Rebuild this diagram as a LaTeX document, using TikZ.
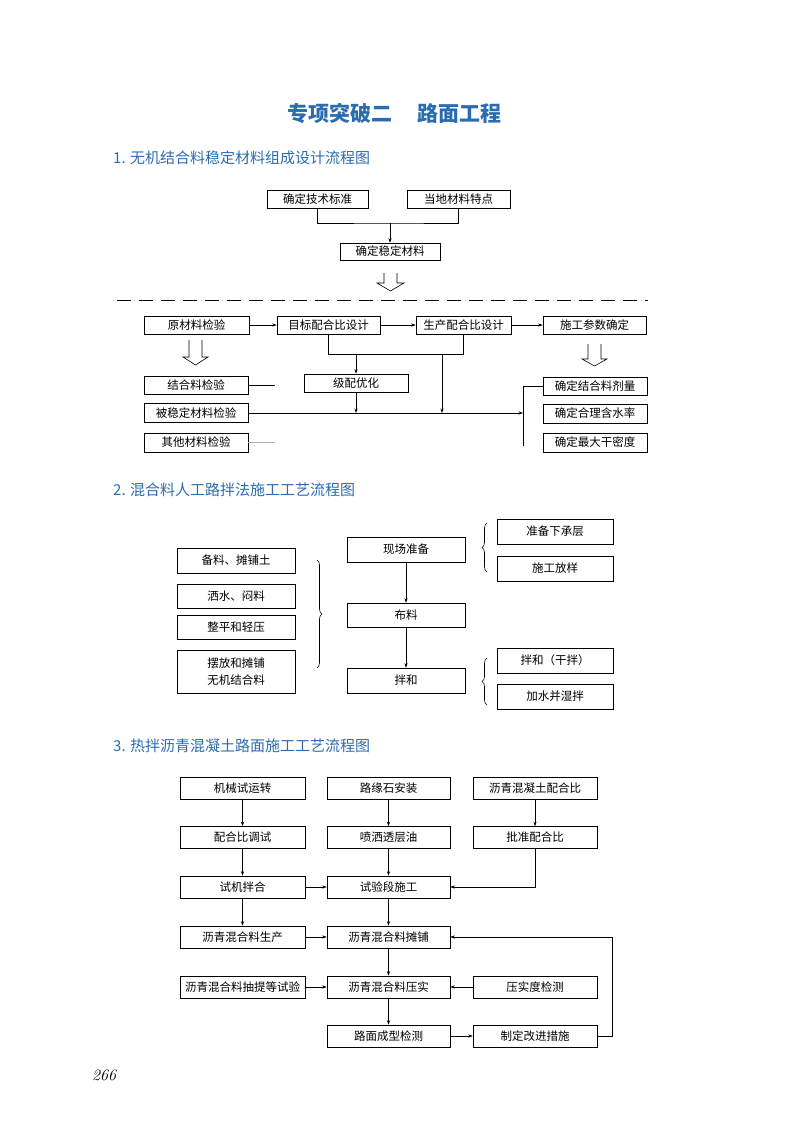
\documentclass[tikz,border=0pt]{standalone}
\usepackage{fontspec}
\newfontfamily\cjk{Noto Sans CJK SC}
\usetikzlibrary{arrows.meta,decorations.pathreplacing}
\definecolor{ttlblue}{HTML}{2B6CB0}
\tikzset{
  box/.style={draw, line width=0.6pt, inner sep=0pt, align=center, font=\cjk\fontsize{11.5}{14}\selectfont},
  conn/.style={line width=0.6pt},
  arr/.style={line width=0.6pt, -{Stealth[length=4.5pt,width=3.2pt]}},
  hollow/.style={line width=0.6pt},
  faint/.style={line width=0.6pt, draw=gray!60},
  brc/.style={line width=0.6pt, decorate, decoration={brace, amplitude=5pt}},
  heading/.style={anchor=west, text=ttlblue, inner sep=0pt, font=\cjk\fontsize{15}{18}\selectfont},
  titletext/.style={anchor=west, text=ttlblue, inner sep=0pt, font=\cjk\bfseries\fontsize{21}{24}\selectfont}
}
\begin{document}
\begin{tikzpicture}[x=1pt,y=-1pt]
\useasboundingbox (0,0) rectangle (800,1132);

% ---------- title ----------
\node[titletext] (t1) at (287,114) {专项突破二};
\node[titletext] (t2) at (417,114) {路面工程};

% ---------- section 1 ----------
\node[heading] (h1) at (113,158) {1. 无机结合料稳定材料组成设计流程图};

\node[box, minimum width=101, minimum height=18] (jsbz) at (317.5,199) {确定技术标准};
\node[box, minimum width=103, minimum height=18] (ddcl) at (458.5,199) {当地材料特点};
\node[box, minimum width=100, minimum height=17] (wdcl) at (390,251.5) {确定稳定材料};
\coordinate (m1) at (390,223);
\draw[conn] (jsbz.south) |- (m1) -| (ddcl.south);
\draw[arr] (m1) -- (wdcl.north);
% hollow arrow
\draw[hollow] (384,273) -- (384,283) -- (377,283) -- (390.5,291) -- (404,283) -- (397,283) -- (397,273);

% dashed separator
\draw[line width=1pt, dash pattern=on 14pt off 8pt] (117,300) -- (648,300);

\node[box, minimum width=105, minimum height=18] (ycl) at (196.5,325) {原材料检验};
\node[box, minimum width=103, minimum height=18] (mb) at (328.5,325) {目标配合比设计};
\node[box, minimum width=95, minimum height=18] (sc) at (463.5,325) {生产配合比设计};
\node[box, minimum width=103, minimum height=18] (sg) at (594.5,325) {施工参数确定};
\draw[arr] (ycl.east) -- (mb.west);
\draw[arr] (mb.east) -- (sc.west);
\draw[arr] (sc.east) -- (sg.west);

\coordinate (j1) at (328.5,354);
\coordinate (j2) at (463.5,354);
\draw[conn] (mb.south) -- (j1) -- (j2) -- (sc.south);
\node[box, minimum width=104, minimum height=18] (jp) at (356,383) {级配优化};
\draw[arr] (jp.north |- j1) -- (jp.north);

% left hollow arrow
\draw[hollow] (189,340) -- (189,357) -- (183,357) -- (195.5,365) -- (208,357) -- (202,357) -- (202,340);
% right hollow arrow
\draw[hollow] (588,344) -- (588,359) -- (582,359) -- (594.5,366) -- (607,359) -- (601,359) -- (601,344);

\node[box, minimum width=104, minimum height=18] (jhl) at (196,385) {结合料检验};
\node[box, minimum width=104, minimum height=19] (bwd) at (196,413) {被稳定材料检验};
\node[box, minimum width=104, minimum height=19] (qt) at (196,442.5) {其他材料检验};
\coordinate (s1) at (275,385);
\coordinate (s2) at (275,442.5);
\draw[conn] (jhl.east) -- (s1);
\draw[faint] (qt.east) -- (s2);

\coordinate (vx) at (523,413);
\draw[arr] (bwd.east) -- (vx);
\draw[arr] (jp.south) -- (jp.south |- vx);
\draw[arr] (442,354) -- (442,413);

\node[box, minimum width=104, minimum height=18] (jd1) at (595,386) {确定结合料剂量};
\node[box, minimum width=104, minimum height=19] (jd2) at (595,413.5) {确定合理含水率};
\node[box, minimum width=104, minimum height=19] (jd3) at (595,442.5) {确定最大干密度};
\coordinate (vt) at (523,386);
\coordinate (vb) at (523,446);
\draw[conn] (jd1.west) -- (vt) -- (vb);

% ---------- section 2 ----------
\node[heading] (h2) at (113,490) {2. 混合料人工路拌法施工工艺流程图};

\node[box, minimum width=118, minimum height=25] (xc) at (406,549.5) {现场准备};
\node[box, minimum width=118, minimum height=24] (bl) at (406,615) {布料};
\node[box, minimum width=118, minimum height=25] (bh) at (406,680.5) {拌和};
\draw[arr] (xc.south) -- (bl.north);
\draw[arr] (bl.south) -- (bh.north);

\node[box, minimum width=118, minimum height=25] (p1) at (236,560.5) {备料、摊铺土};
\node[box, minimum width=118, minimum height=24] (p2) at (236,596) {洒水、闷料};
\node[box, minimum width=118, minimum height=24] (p3) at (236,627) {整平和轻压};
\node[box, minimum width=118, minimum height=43, font=\cjk\fontsize{11.5}{17}\selectfont] (p4) at (236,671.5) {摆放和摊铺\\无机结合料};
\draw[brc] (317,560) -- (317,668);

\node[box, minimum width=116, minimum height=25] (zb) at (555,531.5) {准备下承层};
\node[box, minimum width=116, minimum height=25] (fy) at (555,568.5) {施工放样};
\node[box, minimum width=116, minimum height=25] (gb) at (555,660.5) {拌和（干拌）};
\node[box, minimum width=116, minimum height=25] (sb) at (555,696.5) {加水并湿拌};
\draw[brc] (487,572) -- (487,523);
\draw[brc] (487,705) -- (487,658);

% ---------- section 3 ----------
\node[heading] (h3) at (113,746) {3. 热拌沥青混凝土路面施工工艺流程图};

\tikzset{sbox/.style={box, minimum height=22}}
\node[sbox, minimum width=125] (a1) at (242.5,788) {机械试运转};
\node[sbox, minimum width=125] (a2) at (242.5,837.5) {配合比调试};
\node[sbox, minimum width=125] (a3) at (242.5,887) {试机拌合};
\node[sbox, minimum width=125] (a4) at (242.5,937) {沥青混合料生产};
\node[sbox, minimum width=125] (a5) at (242.5,987) {沥青混合料抽提等试验};

\node[sbox, minimum width=123] (b1) at (388.5,788) {路缘石安装};
\node[sbox, minimum width=123] (b2) at (388.5,837.5) {喷洒透层油};
\node[sbox, minimum width=123] (b3) at (388.5,887) {试验段施工};
\node[sbox, minimum width=123] (b4) at (388.5,937) {沥青混合料摊铺};
\node[sbox, minimum width=123] (b5) at (388.5,987) {沥青混合料压实};
\node[sbox, minimum width=123] (b6) at (388.5,1036) {路面成型检测};

\node[sbox, minimum width=124] (d1) at (535,788) {沥青混凝土配合比};
\node[sbox, minimum width=124] (d2) at (535,837.5) {批准配合比};
\node[sbox, minimum width=124] (d5) at (535,987) {压实度检测};
\node[sbox, minimum width=124] (d6) at (535,1036) {制定改进措施};

\draw[arr] (a1) -- (a2);
\draw[arr] (a2) -- (a3);
\draw[arr] (a3) -- (a4);
\draw[arr] (b1) -- (b2);
\draw[arr] (b2) -- (b3);
\draw[arr] (b3) -- (b4);
\draw[arr] (b4) -- (b5);
\draw[arr] (b5) -- (b6);
\draw[arr] (d1) -- (d2);
\draw[arr] (a3) -- (b3);
\draw[arr] (a4) -- (b4);
\draw[arr] (a5) -- (b5);
\draw[arr] (d5) -- (b5);
\draw[arr] (b6) -- (d6);
\coordinate (k1) at (535,887);
\draw[arr] (d2.south) -- (k1) -- (b3.east);
\coordinate (k2) at (612,1036);
\coordinate (k3) at (612,937);
\draw[arr] (d6.east) -- (k2) -- (k3) -- (b4.east);

% page number
\node[anchor=center, inner sep=0pt, font=\itshape\fontsize{16}{18}\selectfont] (pg) at (104,1075) {266};
\end{tikzpicture}
\end{document}
